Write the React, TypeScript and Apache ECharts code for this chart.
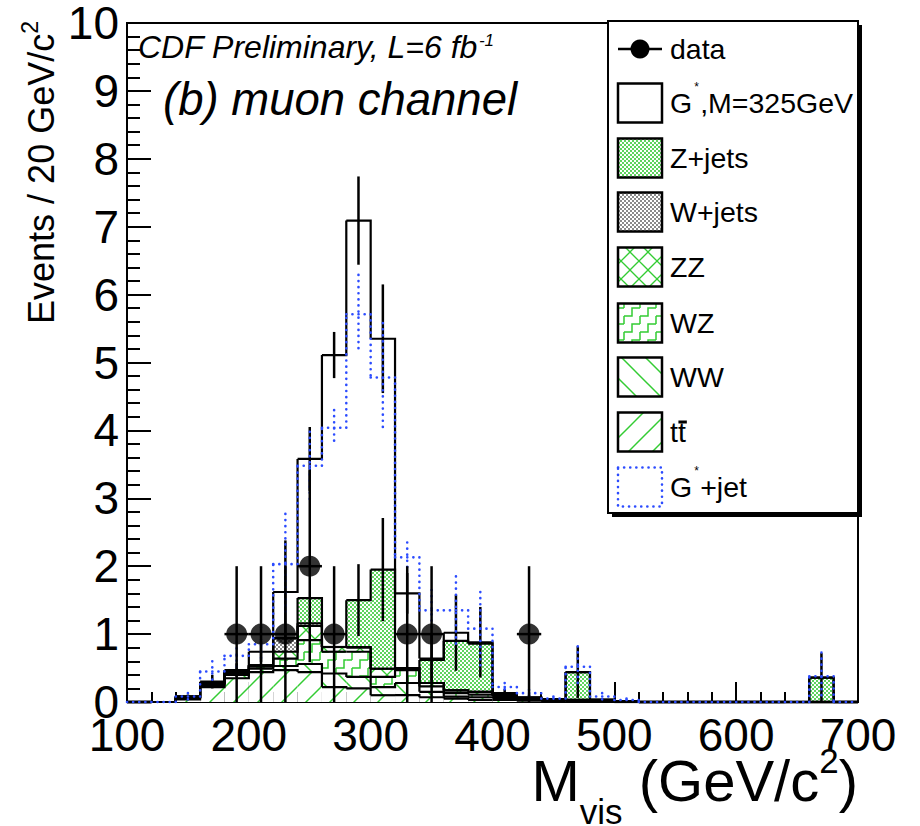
import React, { useEffect, useRef } from 'react';
import * as echarts from 'echarts';

// ---------------- data ----------------
const binEdges = [100, 120, 140, 160, 180, 200, 220, 240, 260, 280, 300, 320, 340, 360, 380, 400, 420, 440, 460, 480, 500, 520, 540, 560, 580, 600, 620, 640, 660, 680, 700];
const binCenters = [110, 130, 150, 170, 190, 210, 230, 250, 270, 290, 310, 330, 350, 370, 390, 410, 430, 450, 470, 490, 510, 530, 550, 570, 590, 610, 630, 650, 670, 690];

// stacked backgrounds, bottom to top
const ttbar = [0, 0, 0.04, 0.22, 0.35, 0.44, 0.47, 0.44, 0.22, 0.20, 0.10, 0.10, 0.07, 0.05, 0.03, 0.03, 0.02, 0.01, 0.01, 0.01, 0, 0, 0, 0, 0, 0, 0, 0, 0, 0];
const ww = [0, 0, 0.02, 0.03, 0.05, 0.05, 0.06, 0.12, 0.20, 0.17, 0.12, 0.18, 0.08, 0.03, 0.04, 0.03, 0.02, 0.01, 0.01, 0.01, 0.01, 0, 0, 0, 0, 0, 0, 0, 0, 0];
const wz = [0, 0, 0.01, 0.02, 0.03, 0.03, 0.11, 0.35, 0.32, 0.37, 0.15, 0.19, 0.08, 0.05, 0.04, 0.03, 0.01, 0.01, 0.01, 0, 0, 0, 0, 0, 0, 0, 0, 0, 0, 0];
const zz = [0, 0, 0.01, 0.01, 0.02, 0.02, 0.10, 0.21, 0.07, 0.06, 0.12, 0.03, 0.05, 0.04, 0.04, 0.02, 0.01, 0.01, 0, 0.01, 0, 0, 0, 0, 0, 0, 0, 0, 0, 0];
const wjets = [0, 0, 0, 0, 0, 0, 0.20, 0.04, 0, 0.01, 0, 0, 0, 0, 0, 0, 0, 0, 0, 0, 0, 0, 0, 0, 0, 0, 0, 0, 0, 0];
const zjets = [0, 0, 0, 0, 0, 0, 0, 0.37, 0, 0.69, 1.46, 0, 0.34, 0.73, 0.71, 0, 0, 0, 0.41, 0, 0, 0, 0, 0, 0, 0, 0, 0, 0.36, 0];
const gstar = [0, 0, 0, 0.02, 0.02, 0.20, 0.68, 2.05, 4.30, 5.59, 3.40, 1.10, 0.02, 0.12, 0.02, 0.02, 0.01, 0, 0, 0, 0, 0, 0, 0, 0, 0, 0, 0, 0, 0];

// G* + jet (not stacked, blue dotted)
const gjet = [0, 0, 0.08, 0.45, 0.68, 0.85, 2.03, 3.48, 4.04, 5.71, 4.78, 2.13, 1.35, 1.35, 1.08, 0.22, 0.13, 0.05, 0.52, 0.08, 0.03, 0, 0, 0, 0, 0, 0, 0, 0.38, 0];
const gjetErr = [0, 0, 0.05, 0.15, 0.2, 0.25, 0.74, 0.5, 0.26, 0.58, 0.8, 0.22, 0.3, 0.5, 0.54, 0.06, 0.05, 0.03, 0.3, 0.05, 0.02, 0, 0, 0, 0, 0, 0, 0, 0.35, 0];

// MC stat errors
const totErr = [0, 0, 0.03, 0.1, 0.1, 0.15, 0.76, 0.47, 0.34, 0.65, 0.8, 0.3, 0.35, 0.56, 0.52, 0.06, 0.04, 0.02, 0.38, 0.02, 0.01, 0, 0, 0, 0, 0, 0, 0, 0.36, 0];
const zjErr = [0, 0, 0, 0, 0, 0, 0, 0, 0, 0.53, 0.76, 0, 0, 0, 0, 0, 0, 0, 0, 0, 0, 0, 0, 0, 0, 0, 0, 0, 0, 0];

// data points
const dataX = [190, 210, 230, 250, 270, 330, 350, 430];
const dataY = [1, 1, 1, 2, 1, 1, 1, 1];
const dataErr = [1, 1, 1, 1.414, 1, 1, 1, 1];

const xTicks = [100, 200, 300, 400, 500, 600, 700];
const yTicks = [0, 1, 2, 3, 4, 5, 6, 7, 8, 9, 10];

const legendLabels = ['data', 'G*,M=325GeV', 'Z+jets', 'W+jets', 'ZZ', 'WZ', 'WW', 'tt̄', 'G*+jet'];

// ---------------------------------------------------------------
const FONT = '"Liberation Sans", Arial, Helvetica, sans-serif';

export default function App() {
  const ref = useRef<HTMLDivElement>(null);

  useEffect(() => {
    const el = ref.current!;
    const chart = echarts.init(el, null, { renderer: 'svg' });

    const mc = document.createElement('canvas');
    const mctx = mc.getContext('2d')!;
    const measure = (t: string, fs: number, italic = false) => {
      mctx.font = `${italic ? 'italic ' : ''}${fs}px ${FONT}`;
      return mctx.measureText(t).width;
    };

    const GREEN = '#33cc33';
    const svgPat = (w: number, h: number, body: string) => {
      const svg = `<svg xmlns="http://www.w3.org/2000/svg" width="${w}" height="${h}" shape-rendering="crispEdges"><rect width="${w}" height="${h}" fill="#ffffff"/>${body}</svg>`;
      return { image: 'data:image/svg+xml;charset=utf-8,' + encodeURIComponent(svg), repeat: 'repeat', imageWidth: w, imageHeight: h } as any;
    };
    const pat = (w: number, h: number, draw: (c: CanvasRenderingContext2D) => void) => {
      const c = document.createElement('canvas');
      c.width = w; c.height = h;
      const ctx = c.getContext('2d')!;
      ctx.fillStyle = '#ffffff';
      ctx.fillRect(0, 0, w, h);
      draw(ctx);
      return { image: c.toDataURL(), repeat: 'repeat', imageWidth: w, imageHeight: h } as any;
    };
    const seg = (c: CanvasRenderingContext2D, pts: number[][]) => {
      c.beginPath();
      c.moveTo(pts[0][0], pts[0][1]);
      for (let i = 1; i < pts.length; i++) c.lineTo(pts[i][0], pts[i][1]);
      c.stroke();
    };

    const pZjets = svgPat(4, 4, `<rect x="0" y="0" width="2" height="2" fill="#5fd35f"/><rect x="2" y="2" width="2" height="2" fill="#5fd35f"/>`);
    const pWjets = svgPat(4, 4, `<rect x="0" y="0" width="2" height="2" fill="#8a8a8a"/><rect x="2" y="2" width="2" height="2" fill="#8a8a8a"/>`);
    const S = 24;
    const pTT = pat(S, S, (c) => {
      c.strokeStyle = GREEN; c.lineWidth = 1.5;
      seg(c, [[-2, S + 2], [S + 2, -2]]);
      seg(c, [[-2, 2], [2, -2]]);
      seg(c, [[S - 2, S + 2], [S + 2, S - 2]]);
    });
    const pWW = pat(S, S, (c) => {
      c.strokeStyle = GREEN; c.lineWidth = 1.5;
      seg(c, [[-2, -2], [S + 2, S + 2]]);
      seg(c, [[S - 2, -2], [S + 2, 2]]);
      seg(c, [[-2, S - 2], [2, S + 2]]);
    });
    const C = 18;
    const pZZ = pat(C, C, (c) => {
      c.strokeStyle = GREEN; c.lineWidth = 1.3;
      seg(c, [[-2, C + 2], [C + 2, -2]]);
      seg(c, [[-2, 2], [2, -2]]);
      seg(c, [[C - 2, C + 2], [C + 2, C - 2]]);
      seg(c, [[-2, -2], [C + 2, C + 2]]);
      seg(c, [[C - 2, -2], [C + 2, 2]]);
      seg(c, [[-2, C - 2], [2, C + 2]]);
    });
    const Z = 16;
    const pWZ = pat(Z, Z, (c) => {
      c.strokeStyle = GREEN; c.lineWidth = 1.5;
      seg(c, [[0, Z], [0, 12], [8, 12], [8, 4], [Z, 4], [Z, 0]]);
      seg(c, [[Z, Z], [Z, 12]]);
      seg(c, [[0, 4], [0, 0]]);
    });

    // stacking
    const comps = [ttbar, ww, wz, zz, wjets, zjets, gstar];
    const fills: any[] = [pTT, pWW, pWZ, pZZ, pWjets, pZjets, '#ffffff'];
    const cum: number[][] = [];
    let run = binCenters.map(() => 0);
    comps.forEach((arr) => {
      run = run.map((v, i) => +(v + arr[i]).toFixed(4));
      cum.push(run);
    });
    const lower = (k: number) => (k === 0 ? binCenters.map(() => 0) : cum[k - 1]);
    const total = cum[cum.length - 1];

    const fillSeries = (k: number) => ({
      type: 'custom',
      silent: true,
      z: 2,
      data: binCenters.map((_, i) => [binEdges[i], binEdges[i + 1], lower(k)[i], cum[k][i]]),
      encode: { x: [0, 1], y: [2, 3] },
      renderItem: (_p: any, api: any) => {
        const x0 = api.value(0), x1 = api.value(1), y0 = api.value(2), y1 = api.value(3);
        if (y1 - y0 <= 0.0001) return null;
        const a = api.coord([x0, y1]);
        const b = api.coord([x1, y0]);
        return { type: 'rect', shape: { x: a[0], y: a[1], width: b[0] - a[0], height: b[1] - a[1] }, style: { fill: fills[k] } };
      },
    });

    const stepSeries = (vals: number[], color: string, width: number, dash: number[] | null, z: number) => ({
      type: 'custom',
      silent: true,
      z,
      data: binCenters.map((_, i) => [binEdges[i], binEdges[i + 1], vals[i], i + 1 < vals.length ? vals[i + 1] : 0]),
      encode: { x: [0, 1], y: [2] },
      renderItem: (_p: any, api: any) => {
        const x0 = api.value(0), x1 = api.value(1), v = api.value(2), vn = api.value(3);
        const p1 = api.coord([x0, v]);
        const p2 = api.coord([x1, v]);
        const p3 = api.coord([x1, vn]);
        return {
          type: 'polyline',
          shape: { points: [p1, p2, p3] },
          style: { stroke: color, lineWidth: width, fill: 'none', lineDash: dash || undefined, lineCap: dash ? 'round' : 'butt' },
        };
      },
    });

    const errSeries = (xs: number[], ys: number[], errs: number[], color: string, width: number, dash: number[] | null, halfW: number, z: number) => ({
      type: 'custom',
      silent: true,
      z,
      data: xs.map((x, i) => [x, ys[i], errs[i]]).filter((d) => d[2] > 0),
      encode: { x: 0, y: 1 },
      renderItem: (_p: any, api: any) => {
        const x = api.value(0), y = api.value(1), e = api.value(2);
        const top = api.coord([x, y + e]);
        const bot = api.coord([x, Math.max(0, y - e)]);
        const children: any[] = [
          { type: 'line', shape: { x1: top[0], y1: top[1], x2: bot[0], y2: bot[1] }, style: { stroke: color, lineWidth: width, lineDash: dash || undefined, lineCap: dash ? 'round' : 'butt' } },
        ];
        if (halfW > 0) {
          const l = api.coord([x - halfW, y]);
          const r = api.coord([x + halfW, y]);
          children.push({ type: 'line', shape: { x1: l[0], y1: l[1], x2: r[0], y2: r[1] }, style: { stroke: color, lineWidth: width } });
        }
        return { type: 'group', children };
      },
    });

    const BLUE = '#2c4cff';
    const series: any[] = [];
    comps.forEach((_, k) => series.push(fillSeries(k)));
    cum.forEach((lvl, k) => series.push(stepSeries(lvl, '#000', 2.2, null, 3 + k * 0.01)));
    series.push(errSeries(binCenters, total, totErr, '#000', 2.5, null, 0, 4));
    series.push(errSeries(binCenters, cum[5], zjErr, '#000', 2.5, null, 0, 4));
    series.push(stepSeries(gjet, BLUE, 2.6, [0.1, 6], 5));
    series.push(errSeries(binCenters, gjet, gjetErr, BLUE, 2.6, [0.1, 6], 0, 5));
    series.push(errSeries(dataX, dataY, dataErr, '#000', 2.5, null, 10, 6));
    series.push({
      type: 'scatter',
      silent: true,
      z: 7,
      symbol: 'circle',
      symbolSize: 21,
      itemStyle: { color: '#000' },
      data: dataX.map((x, i) => [x, dataY[i]]),
    });

    // ---------------- texts & legend ----------------
    const graphics: any[] = [];
    const txt = (x: number, base: number, text: string, fs: number, italic = false, align = 'left') => ({
      type: 'text', x, y: base - 0.35 * fs, z: 100,
      style: { text, fontSize: fs, fontFamily: FONT, fontStyle: italic ? 'italic' : 'normal', fill: '#000', align, verticalAlign: 'middle' },
    });

    // header
    const h1 = 'CDF Preliminary, L=6 fb';
    graphics.push(txt(138, 58, h1, 32, true));
    graphics.push(txt(138 + measure(h1, 32, true) + 1, 46, '-1', 17, true));
    graphics.push(txt(163, 115, '(b) muon channel', 45.5, true));

    // y title (rotated)
    const ytFs = 36, ytSup = 23;
    const wSup = measure('2', ytSup);
    graphics.push({
      type: 'group', x: 54, y: 21, rotation: Math.PI / 2, z: 100,
      children: [
        { type: 'text', x: -wSup, y: -0.35 * ytFs, style: { text: 'Events / 20 GeV/c', fontSize: ytFs, fontFamily: FONT, fill: '#000', align: 'right', verticalAlign: 'middle' } },
        { type: 'text', x: 0, y: -0.45 * ytFs - 0.35 * ytSup, style: { text: '2', fontSize: ytSup, fontFamily: FONT, fill: '#000', align: 'right', verticalAlign: 'middle' } },
      ],
    });

    // x title
    const xtFs = 58, xtSmall = 35, xtBase = 801;
    const pieces = [
      { t: 'M', fs: xtFs, dy: 0 },
      { t: 'vis', fs: xtSmall, dy: 23 },
      { t: ' (GeV/c', fs: xtFs, dy: 0 },
      { t: '2', fs: xtSmall, dy: -28 },
      { t: ')', fs: xtFs, dy: 0 },
    ];
    const totalW = pieces.reduce((s, p) => s + measure(p.t, p.fs), 0);
    let cx = 858 - totalW;
    pieces.forEach((p) => {
      graphics.push(txt(cx, xtBase + p.dy, p.t, p.fs));
      cx += measure(p.t, p.fs);
    });

    // legend
    const LX = 608, LY = 21, LW = 250, LH = 492;
    graphics.push({ type: 'rect', z: 90, shape: { x: LX + 4, y: LY + 4, width: LW, height: LH }, style: { fill: '#000' } });
    graphics.push({ type: 'rect', z: 91, shape: { x: LX, y: LY, width: LW, height: LH }, style: { fill: '#fff', stroke: '#000', lineWidth: 2 } });
    const rowY = [49, 103, 158, 212, 267, 323, 377, 432, 487];
    const bx = 618, bw = 44, bh = 39, tx = 670, lfs = 28.5;
    const fillMap: any = { 1: '#ffffff', 2: pZjets, 3: pWjets, 4: pZZ, 5: pWZ, 6: pWW, 7: pTT };
    rowY.forEach((cy, i) => {
      const label = legendLabels[i];
      if (i === 0) {
        graphics.push({ type: 'line', z: 95, shape: { x1: bx, y1: cy, x2: bx + bw, y2: cy }, style: { stroke: '#000', lineWidth: 2.5 } });
        graphics.push({ type: 'circle', z: 96, shape: { cx: bx + bw / 2, cy, r: 9.5 }, style: { fill: '#000' } });
      } else if (i === 8) {
        graphics.push({ type: 'rect', z: 95, shape: { x: bx, y: cy - bh / 2, width: bw, height: bh }, style: { fill: 'none', stroke: BLUE, lineWidth: 2.6, lineDash: [0.1, 6], lineCap: 'round' } });
      } else {
        graphics.push({ type: 'rect', z: 95, shape: { x: bx, y: cy - bh / 2, width: bw, height: bh }, style: { fill: fillMap[i], stroke: '#000', lineWidth: 2.5 } });
      }
      const base = cy + 10;
      if (label.startsWith('G*')) {
        const rest = label.slice(2);
        graphics.push(txt(tx, base, 'G', lfs));
        const wG = measure('G', lfs);
        graphics.push(txt(tx + wG + 2, cy - 12, '*', 12));
        graphics.push(txt(tx + wG + 8, base, rest, lfs));
      } else if (label === 'tt̄') {
        graphics.push(txt(tx, base, 'tt', lfs));
        const wt = measure('t', lfs);
        graphics.push({ type: 'line', z: 100, shape: { x1: tx + wt + 0.5, y1: cy - 10, x2: tx + 2 * wt + 1, y2: cy - 10 }, style: { stroke: '#000', lineWidth: 3 } });
      } else {
        graphics.push(txt(tx, base, label, lfs));
      }
    });

    const labelStyle = { color: '#000', fontSize: 46, fontFamily: FONT };
    chart.setOption({
      animation: false,
      backgroundColor: '#fff',
      grid: { left: 127, right: 62, top: 21, bottom: 124, show: true, borderColor: '#000', borderWidth: 2, backgroundColor: 'transparent', containLabel: false },
      xAxis: {
        type: 'value', min: xTicks[0], max: xTicks[xTicks.length - 1], interval: 100,
        axisLine: { show: true, onZero: false, lineStyle: { color: '#000', width: 2 } },
        axisTick: { show: true, inside: true, length: 20, lineStyle: { color: '#000', width: 2 } },
        minorTick: { show: true, splitNumber: 5, length: 10, lineStyle: { color: '#000', width: 2 } },
        splitLine: { show: false },
        axisLabel: { ...labelStyle, margin: 10, formatter: (v: number) => String(v) },
      },
      yAxis: {
        type: 'value', min: yTicks[0], max: yTicks[yTicks.length - 1], interval: 1,
        axisLine: { show: true, lineStyle: { color: '#000', width: 2 } },
        axisTick: { show: true, inside: true, length: 24, lineStyle: { color: '#000', width: 2 } },
        minorTick: { show: true, splitNumber: 5, length: 13, lineStyle: { color: '#000', width: 2 } },
        splitLine: { show: false },
        axisLabel: { ...labelStyle, margin: 8, formatter: (v: number) => String(v) },
      },
      series,
      graphic: graphics,
    });

    return () => chart.dispose();
  }, []);

  return <div ref={ref} style={{ position: 'absolute', left: 0, top: 0, width: 920, height: 826, background: '#fff' }} />;
}
